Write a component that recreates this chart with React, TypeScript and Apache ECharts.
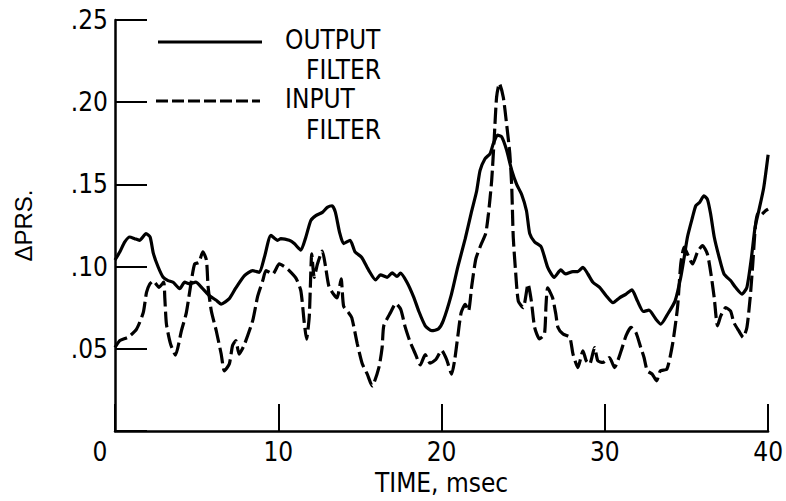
import React, { useEffect, useRef } from "react";
import * as echarts from "echarts";

const xTicks = [0, 10, 20, 30, 40];
const yTickLabels = ["", ".05", ".10", ".15", ".20", ".25"];

const outputT = [0, 0.3, 0.6, 0.9, 1.2, 1.5, 1.9, 2.15, 2.35, 2.65, 2.95, 3.25, 3.56, 3.96, 4.27, 4.57, 4.94, 5.37, 5.79, 6.2, 6.5, 7.0, 7.4, 7.93, 8.43, 8.84, 9.15, 9.55, 9.96, 10.16, 10.67, 10.98, 11.38, 11.69, 11.99, 12.3, 12.7, 13.0, 13.3, 13.5, 13.75, 14.0, 14.4, 14.7, 15.1, 15.55, 15.96, 16.26, 16.67, 16.97, 17.27, 17.48, 17.88, 18.3, 18.6, 19.0, 19.4, 19.8, 20.1, 20.6, 21.0, 21.45, 21.85, 22.15, 22.36, 22.66, 22.97, 23.17, 23.43, 23.68, 23.98, 24.3, 24.6, 24.9, 25.2, 25.4, 25.7, 26.1, 26.5, 26.9, 27.3, 27.6, 28.05, 28.35, 28.66, 28.96, 29.27, 29.68, 30.08, 30.5, 30.9, 31.3, 31.66, 32.0, 32.36, 32.7, 33.13, 33.43, 33.84, 34.3, 34.65, 34.86, 35.06, 35.37, 35.57, 35.8, 36.07, 36.28, 36.48, 36.7, 37.0, 37.3, 37.7, 38.0, 38.4, 38.7, 38.98, 39.2, 39.43, 39.73, 40.0];
const outputV = [0.104, 0.109, 0.115, 0.118, 0.117, 0.116, 0.12, 0.118, 0.108, 0.0996, 0.0935, 0.0915, 0.0905, 0.0866, 0.0905, 0.0896, 0.0905, 0.0866, 0.0823, 0.0795, 0.0772, 0.0805, 0.087, 0.0945, 0.0976, 0.0965, 0.1057, 0.119, 0.116, 0.117, 0.116, 0.114, 0.11, 0.118, 0.128, 0.131, 0.133, 0.136, 0.137, 0.133, 0.121, 0.114, 0.116, 0.109, 0.1057, 0.0976, 0.0919, 0.095, 0.0935, 0.0962, 0.094, 0.096, 0.0905, 0.0813, 0.073, 0.064, 0.061, 0.062, 0.067, 0.083, 0.1, 0.117, 0.134, 0.146, 0.1585, 0.1656, 0.1687, 0.1748, 0.18, 0.179, 0.171, 0.1585, 0.15, 0.144, 0.134, 0.12, 0.115, 0.112, 0.0996, 0.0935, 0.098, 0.0955, 0.097, 0.097, 0.0996, 0.0955, 0.0905, 0.0874, 0.0823, 0.078, 0.081, 0.0833, 0.0858, 0.079, 0.0727, 0.0735, 0.068, 0.065, 0.071, 0.079, 0.0935, 0.1057, 0.118, 0.13, 0.137, 0.139, 0.143, 0.141, 0.132, 0.118, 0.1057, 0.0955, 0.0915, 0.0874, 0.0833, 0.0874, 0.1057, 0.124, 0.134, 0.148, 0.168];

const inputT = [0, 0.3, 0.8, 1.32, 1.73, 1.93, 2.13, 2.34, 2.7, 2.98, 3.05, 3.15, 3.4, 3.7, 4.07, 4.37, 4.68, 4.88, 5.14, 5.38, 5.6, 5.7, 5.9, 6.2, 6.5, 6.7, 7.0, 7.2, 7.4, 7.6, 7.9, 8.43, 8.74, 9.05, 9.25, 9.66, 10.06, 10.37, 10.67, 11.08, 11.38, 11.59, 11.73, 11.9, 12.05, 12.2, 12.4, 12.7, 12.9, 13.1, 13.4, 13.6, 13.85, 14.0, 14.3, 14.5, 14.84, 15.15, 15.45, 15.75, 16.16, 16.36, 16.46, 16.87, 17.2, 17.5, 17.78, 18.08, 18.4, 18.7, 19.0, 19.3, 19.65, 20.0, 20.3, 20.62, 20.8, 21.0, 21.2, 21.45, 21.65, 21.85, 22.1, 22.4, 22.7, 22.87, 23.07, 23.23, 23.37, 23.54, 23.78, 23.98, 24.18, 24.3, 24.39, 24.53, 24.7, 25.0, 25.3, 25.5, 25.7, 26.0, 26.3, 26.4, 26.5, 26.8, 27.0, 27.13, 27.44, 27.85, 28.05, 28.35, 28.66, 28.86, 29.07, 29.37, 29.57, 29.88, 30.28, 30.59, 31.0, 31.3, 31.6, 31.9, 32.2, 32.4, 32.6, 32.9, 33.17, 33.4, 33.8, 34.15, 34.45, 34.65, 34.86, 35.06, 35.37, 35.67, 35.98, 36.28, 36.5, 36.7, 36.9, 37.1, 37.4, 37.7, 37.9, 38.2, 38.47, 38.7, 38.9, 39.06, 39.2, 39.33, 39.5, 39.84, 40.0];
const inputV = [0.0508, 0.055, 0.057, 0.062, 0.072, 0.0843, 0.0894, 0.0912, 0.0874, 0.0905, 0.081, 0.065, 0.053, 0.0462, 0.061, 0.072, 0.0915, 0.1016, 0.1026, 0.109, 0.104, 0.088, 0.073, 0.061, 0.047, 0.0366, 0.0407, 0.052, 0.055, 0.0468, 0.052, 0.067, 0.082, 0.0915, 0.0976, 0.0955, 0.1016, 0.1, 0.0976, 0.093, 0.0854, 0.066, 0.0559, 0.07, 0.1077, 0.0935, 0.1016, 0.1095, 0.0996, 0.088, 0.083, 0.081, 0.0925, 0.076, 0.072, 0.069, 0.053, 0.0407, 0.0346, 0.0274, 0.0386, 0.0508, 0.064, 0.072, 0.0775, 0.074, 0.063, 0.054, 0.0468, 0.0402, 0.0465, 0.0412, 0.0435, 0.049, 0.0437, 0.0346, 0.043, 0.058, 0.072, 0.077, 0.073, 0.0884, 0.1047, 0.113, 0.12, 0.132, 0.1524, 0.179, 0.203, 0.2114, 0.203, 0.187, 0.1687, 0.148, 0.118, 0.0976, 0.079, 0.075, 0.0894, 0.079, 0.063, 0.056, 0.059, 0.077, 0.087, 0.081, 0.071, 0.063, 0.059, 0.057, 0.0468, 0.0386, 0.0488, 0.0427, 0.0407, 0.0508, 0.0427, 0.0417, 0.0447, 0.0386, 0.0488, 0.058, 0.063, 0.06, 0.0508, 0.0447, 0.0366, 0.0346, 0.0305, 0.0366, 0.0376, 0.053, 0.075, 0.1016, 0.1118, 0.1077, 0.1016, 0.1087, 0.1128, 0.1077, 0.0955, 0.081, 0.064, 0.07, 0.075, 0.073, 0.066, 0.061, 0.057, 0.063, 0.081, 0.1016, 0.122, 0.132, 0.131, 0.134, 0.135];

const legendLabels = ["OUTPUT", "FILTER", "INPUT", "FILTER"];

const NARROW = "'Liberation Sans Narrow', 'DejaVu Sans Condensed', 'Roboto Condensed', 'Liberation Sans', sans-serif";

export default function App() {
  const ref = useRef<HTMLDivElement>(null);
  useEffect(() => {
    if (!ref.current) return;
    const chart = echarts.init(ref.current, null, { renderer: "svg" });
    const outData = outputT.map((t, i) => [t, outputV[i]]);
    const inData = inputT.map((t, i) => [t, inputV[i]]);
    const textStyle = { fontFamily: NARROW, fontSize: 26, fill: "#000" };
    chart.setOption({
      animation: false,
      backgroundColor: "#fff",
      grid: { left: 115, right: 15, top: 20, bottom: 70, containLabel: false },
      xAxis: {
        type: "value",
        min: 0,
        max: 40,
        interval: 10,
        name: "TIME, msec",
        nameLocation: "middle",
        nameGap: 38,
        nameTextStyle: { fontFamily: NARROW, fontSize: 26, color: "#000" },
        axisLine: { lineStyle: { color: "#000", width: 2.5 } },
        axisTick: { inside: true, length: 27, lineStyle: { color: "#000", width: 2 } },
        axisLabel: {
          margin: 8,
          color: "#000",
          fontFamily: NARROW,
          fontSize: 26,
          formatter: (v: number) => (v === xTicks[0] ? "{z|0}" : String(v)),
          rich: { z: { padding: [0, 30, 0, 0], fontFamily: NARROW, fontSize: 26, color: "#000" } },
        },
        splitLine: { show: false },
      },
      yAxis: {
        type: "value",
        min: 0,
        max: 0.25,
        interval: 0.05,
        name: "ΔPRS.",
        nameLocation: "middle",
        nameRotate: 90,
        nameGap: 80,
        nameTextStyle: { fontFamily: "'Liberation Sans', sans-serif", fontSize: 24, color: "#000" },
        axisLine: { show: true, lineStyle: { color: "#000", width: 2.5 } },
        axisTick: { show: true, inside: true, length: 32, lineStyle: { color: "#000", width: 2 } },
        axisLabel: {
          margin: 7,
          color: "#000",
          fontFamily: NARROW,
          fontSize: 26,
          padding: [0, 0, 6, 0],
          formatter: (v: number) => yTickLabels[Math.round(v / 0.05)] ?? "",
        },
        splitLine: { show: false },
      },
      series: [
        {
          name: "OUTPUT FILTER",
          type: "line",
          data: outData,
          showSymbol: false,
          symbol: "none",
          smooth: 0.2,
          lineStyle: { color: "#000", width: 3.2, type: "solid" },
        },
        {
          name: "INPUT FILTER",
          type: "line",
          data: inData,
          showSymbol: false,
          symbol: "none",
          smooth: 0.2,
          lineStyle: { color: "#000", width: 3.2, type: [16, 5] },
        },
      ],
      graphic: [
        { type: "line", shape: { x1: 158, y1: 42, x2: 262, y2: 42 }, style: { stroke: "#000", lineWidth: 3.2 } },
        { type: "line", shape: { x1: 156, y1: 101, x2: 260, y2: 101 }, style: { stroke: "#000", lineWidth: 3.2, lineDash: [12, 4] } },
        { type: "text", x: 285, y: 40, style: { ...textStyle, text: legendLabels[0], verticalAlign: "middle" } },
        { type: "text", x: 306, y: 70, style: { ...textStyle, text: legendLabels[1], verticalAlign: "middle" } },
        { type: "text", x: 285, y: 99, style: { ...textStyle, text: legendLabels[2], verticalAlign: "middle" } },
        { type: "text", x: 306, y: 130, style: { ...textStyle, text: legendLabels[3], verticalAlign: "middle" } },
      ],
    });
    return () => chart.dispose();
  }, []);
  return <div ref={ref} style={{ width: 786, height: 501, position: "absolute", left: 0, top: 0 }} />;
}
